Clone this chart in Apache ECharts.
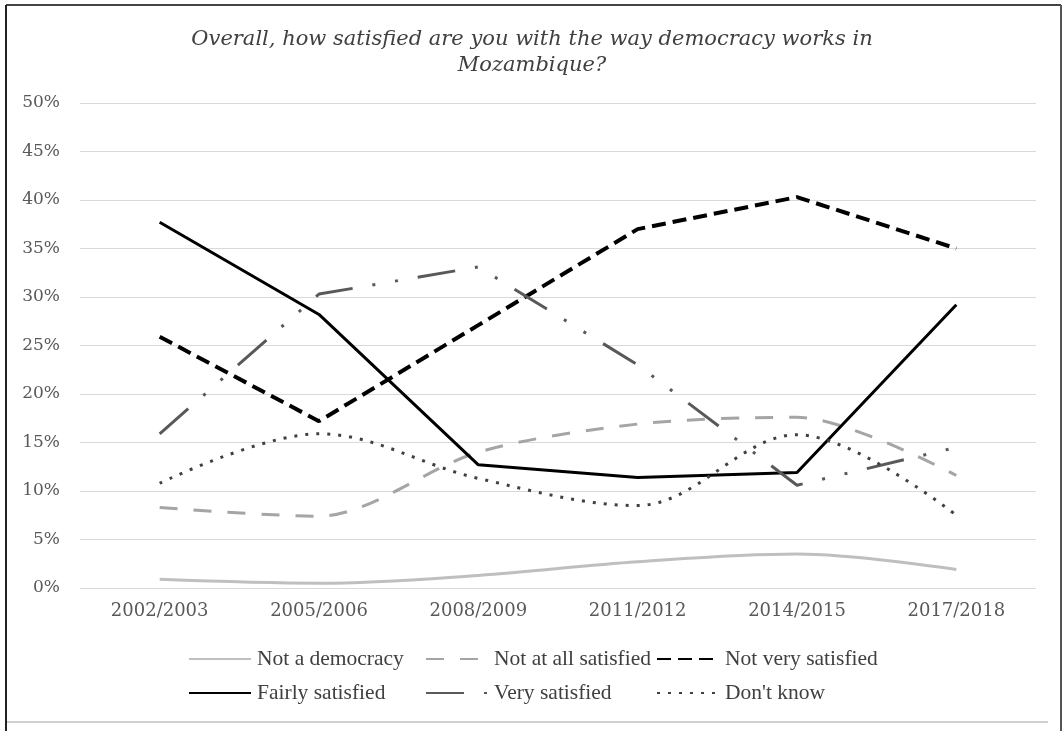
<!DOCTYPE html>
<html><head><meta charset="utf-8">
<script src="https://cdn.jsdelivr.net/npm/echarts@6/dist/echarts.min.js"></script>
<style>html,body{margin:0;padding:0;background:#fff}#c{width:1064px;height:731px}</style>
</head><body><div id="c"></div>
<script>
const categories = ['2002/2003','2005/2006','2008/2009','2011/2012','2014/2015','2017/2018'];
const notADemocracy = [0.9, 0.5, 1.3, 2.7, 3.5, 1.9];
const notAtAllSatisfied = [8.3, 7.4, 14.0, 16.9, 17.6, 11.6];
const notVerySatisfied = [25.9, 17.2, 27.1, 37.0, 40.3, 35.0];
const fairlySatisfied = [37.7, 28.2, 12.7, 11.4, 11.9, 29.2];
const verySatisfied = [15.9, 30.3, 33.1, 23.0, 10.6, 14.5];
const dontKnow = [10.8, 15.9, 11.3, 8.5, 15.8, 7.5];
const yTicks = {min: 0, max: 50, interval: 5};

const chart = echarts.init(document.getElementById('c'), null, {renderer: 'canvas'});
function s(name, data, color, width, type, smooth) {
  return {name, type: 'line', data, symbol: 'none', smooth: smooth,
    lineStyle: {color, width, type, cap: 'butt'}, itemStyle: {color},
    emphasis: {disabled: true}};
}
const legendText = {fontFamily: 'Liberation Serif', fontSize: 21.5, color: '#404040', padding: [0,0,0,1]};
function leg(left, names) {
  return {orient: 'vertical', left, top: 648, padding: 0, itemWidth: 62, itemHeight: 10, itemGap: 12,
    data: names, textStyle: legendText, selectedMode: false,
    itemStyle: {color: 'rgba(0,0,0,0)', borderWidth: 0}};
}
chart.setOption({
  animation: false,
  backgroundColor: '#fff',
  title: {
    text: 'Overall, how satisfied are you with the way democracy works in\nMozambique?',
    left: 'center', top: 22,
    textStyle: {fontFamily: 'DejaVu Serif', fontStyle: 'italic', fontWeight: 'normal', fontSize: 21, lineHeight: 26, color: '#404040', align: 'center'}
  },
  legend: [
    leg(188, ['Not a democracy', 'Fairly satisfied']),
    leg(425, ['Not at all satisfied', 'Very satisfied']),
    leg(656, ['Not very satisfied', "Don't know"])
  ],
  grid: {left: 80, right: 28, top: 103, bottom: 143, containLabel: false},
  xAxis: {type: 'category', data: categories, boundaryGap: true,
    axisLine: {show: false}, axisTick: {show: false},
    axisLabel: {margin: 14, fontFamily: 'DejaVu Serif', fontSize: 18, color: '#595959'}},
  yAxis: {type: 'value', min: yTicks.min, max: yTicks.max, interval: yTicks.interval,
    axisLine: {show: false}, axisTick: {show: false},
    axisLabel: {margin: 20, formatter: '{value}%', fontFamily: 'DejaVu Serif', fontSize: 17, color: '#595959'},
    splitLine: {lineStyle: {color: '#d9d9d9', width: 1}}},
  series: [
    s('Not a democracy', notADemocracy, '#bfbfbf', 3, 'solid', 0.35),
    s('Not at all satisfied', notAtAllSatisfied, '#a5a5a5', 3, [18, 16], 0.3),
    s('Not very satisfied', notVerySatisfied, '#000000', 4, [14, 7], false),
    s('Fairly satisfied', fairlySatisfied, '#000000', 3, 'solid', false),
    s('Very satisfied', verySatisfied, '#595959', 3, [38, 20, 3, 20, 3, 20], false),
    s("Don't know", dontKnow, '#404040', 3, [3, 8], 0.35)
  ],
  graphic: [
    {type: 'line', shape: {x1: 6, y1: 5, x2: 1061, y2: 5}, style: {stroke: '#444', lineWidth: 2}, silent: true},
    {type: 'line', shape: {x1: 6, y1: 5, x2: 6, y2: 731}, style: {stroke: '#222', lineWidth: 2}, silent: true},
    {type: 'line', shape: {x1: 1061, y1: 5, x2: 1061, y2: 731}, style: {stroke: '#555', lineWidth: 2}, silent: true},
    {type: 'line', shape: {x1: 7, y1: 722, x2: 1048, y2: 722}, style: {stroke: '#d0d0d0', lineWidth: 2}, silent: true}
  ]
});
</script></body></html>
